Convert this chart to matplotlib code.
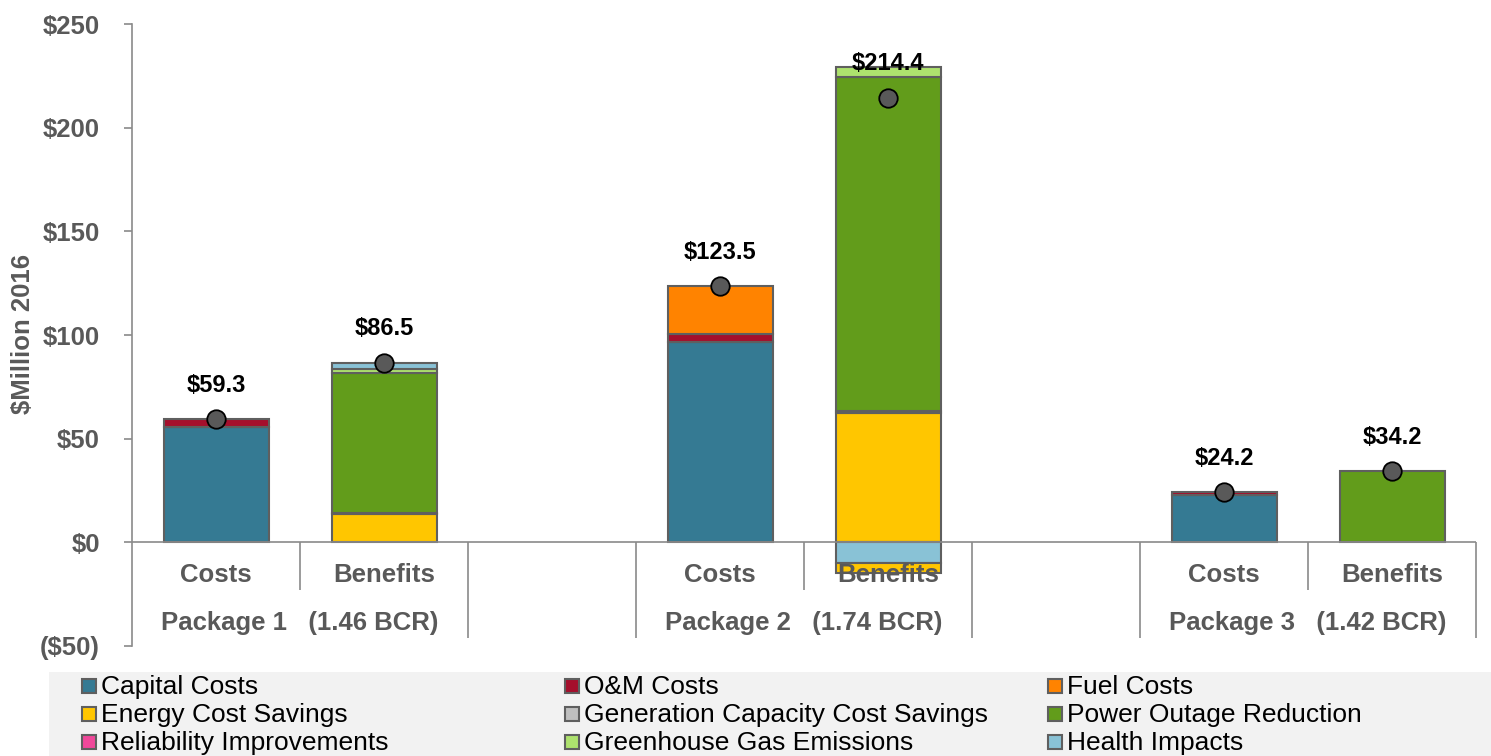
import matplotlib
matplotlib.use("Agg")
import matplotlib.pyplot as plt
from matplotlib.patches import Rectangle
import numpy as np

plt.rcParams['font.family'] = ['Liberation Sans', 'DejaVu Sans']

# ---------------- data ----------------
bar_labels = ["Costs", "Benefits", "Costs", "Benefits", "Costs", "Benefits"]
package_labels = ["Package 1   (1.46 BCR)", "Package 2   (1.74 BCR)", "Package 3   (1.42 BCR)"]
totals = [59.3, 86.5, 123.5, 214.4, 24.2, 34.2]

capital     = [55.8, 0.0, 96.8, 0.0, 22.6, 0.0]
om          = [3.5, 0.0, 3.7, 0.0, 1.6, 0.0]
fuel        = [0.0, 0.0, 23.0, 0.0, 0.0, 0.0]
energy      = [0.0, 13.5, 0.0, 62.5, 0.0, 0.0]
gencap      = [0.0, 0.7, 0.0, 0.8, 0.0, 0.0]
outage      = [0.0, 67.6, 0.0, 161.0, 0.0, 34.2]
reliability = [0.0, 0.0, 0.0, 0.0, 0.0, 0.0]
ghg         = [0.0, 1.9, 0.0, 5.1, 0.0, 0.0]
health      = [0.0, 2.8, 0.0, -9.8, 0.0, 0.0]
energy_neg  = [0.0, 0.0, 0.0, -5.2, 0.0, 0.0]

series_names = ["Capital Costs", "O&M Costs", "Fuel Costs",
                "Energy Cost Savings", "Generation Capacity Cost Savings", "Power Outage Reduction",
                "Reliability Improvements", "Greenhouse Gas Emissions", "Health Impacts"]
series_values = [capital, om, fuel, energy, gencap, outage, reliability, ghg, health]
series_colors = ["#357A93", "#A50F2C", "#FF8300", "#FFC600", "#BFBFBF", "#629C1B",
                 "#F0489A", "#AEE26E", "#89C2D6"]

yticks = [-50, 0, 50, 100, 150, 200, 250]
ytick_labels = ["($50)", "$0", "$50", "$100", "$150", "$200", "$250"]

# ---------------- layout ----------------
W, H = 1491, 756
fig = plt.figure(figsize=(W / 100, H / 100), dpi=100)
ax = fig.add_axes([132 / W, 1 - 646 / H, (1476 - 132) / W, (646 - 24) / H])
ax.set_xlim(-0.5, 7.5)
ax.set_ylim(-50, 250)

xpos = np.array([0, 1, 3, 4, 6, 7])
bar_w = 0.625
edge = "#5f5f5f"
grey = "#595959"
axis_col = "#8a8a8a"

pos_base = np.zeros(len(xpos))
neg_base = np.zeros(len(xpos))
all_series = list(zip(series_values, series_colors)) + [(energy_neg, series_colors[3])]
for vals, col in all_series:
    vals = np.array(vals, dtype=float)
    for i, v in enumerate(vals):
        if v == 0:
            continue
        if v > 0:
            ax.bar(xpos[i], v, bottom=pos_base[i], width=bar_w, color=col,
                   edgecolor=edge, linewidth=1.5, zorder=2)
            pos_base[i] += v
        else:
            ax.bar(xpos[i], v, bottom=neg_base[i], width=bar_w, color=col,
                   edgecolor=edge, linewidth=1.5, zorder=2)
            neg_base[i] += v

# totals (dots + labels)
ax.plot(xpos, totals, "o", ms=13.3, mfc=grey, mec="black", mew=1.3, zorder=6, clip_on=False)
for x, t in zip(xpos, totals):
    ax.annotate(f"${t:.1f}", (x, t), xytext=(0, 24.5), textcoords="offset points",
                ha="center", va="center", fontsize=17, fontweight="bold", color="black", zorder=7)

# axes styling
for s in ["top", "right", "bottom"]:
    ax.spines[s].set_visible(False)
ax.spines["left"].set_color(axis_col)
ax.spines["left"].set_linewidth(1.2)
ax.set_xticks([])
ax.set_yticks(yticks)
ax.set_yticklabels(ytick_labels)
ax.tick_params(axis="y", direction="out", length=6, width=1.2, color=axis_col, pad=17,
               labelsize=18.5, labelcolor=grey)
for lab in ax.get_yticklabels():
    lab.set_fontweight("bold")

# category axis at zero
ax.axhline(0, color=axis_col, linewidth=1.2, zorder=3)
short_sep = [0.5, 3.5, 6.5]
long_sep = [1.5, 2.5, 4.5, 5.5, 7.5]
ax.vlines(short_sep, -23, 0, color=axis_col, linewidth=1.2, zorder=3)
ax.vlines(long_sep, -46, 0, color=axis_col, linewidth=1.2, zorder=3, clip_on=False)

for x, lab in zip(xpos, bar_labels):
    ax.text(x, -15.8, lab, ha="center", va="center", fontsize=18.5, fontweight="bold",
            color=grey, zorder=8)
for k, lab in enumerate(package_labels):
    ax.text(xpos[2 * k] + 0.5, -38.8, lab, ha="center", va="center", fontsize=18.5,
            fontweight="bold", color=grey, zorder=8)

fig.text(23 / W, 1 - 334 / H, "$Million 2016", rotation=90, ha="center", va="center",
         fontsize=18.5, fontweight="bold", color=grey)

# legend (manual grid)
fig.patches.append(Rectangle((49 / W, 0), (W - 49) / W, 84 / H, transform=fig.transFigure,
                             facecolor="#F2F2F2", edgecolor="none", zorder=0))
col_x = [82, 565, 1048]
row_base = [694, 722, 750]
for idx, (name, col) in enumerate(zip(series_names, series_colors)):
    r, c = divmod(idx, 3)
    mx = col_x[c]
    my = row_base[r] - 15
    fig.patches.append(Rectangle((mx / W, 1 - (my + 14) / H), 14 / W, 14 / H,
                                 transform=fig.transFigure, facecolor=col,
                                 edgecolor=edge, linewidth=1.5, zorder=1))
    fig.text((mx + 19) / W, 1 - row_base[r] / H, name, ha="left", va="baseline",
             fontsize=19, color="black")

fig.savefig("out.png", dpi=100)
